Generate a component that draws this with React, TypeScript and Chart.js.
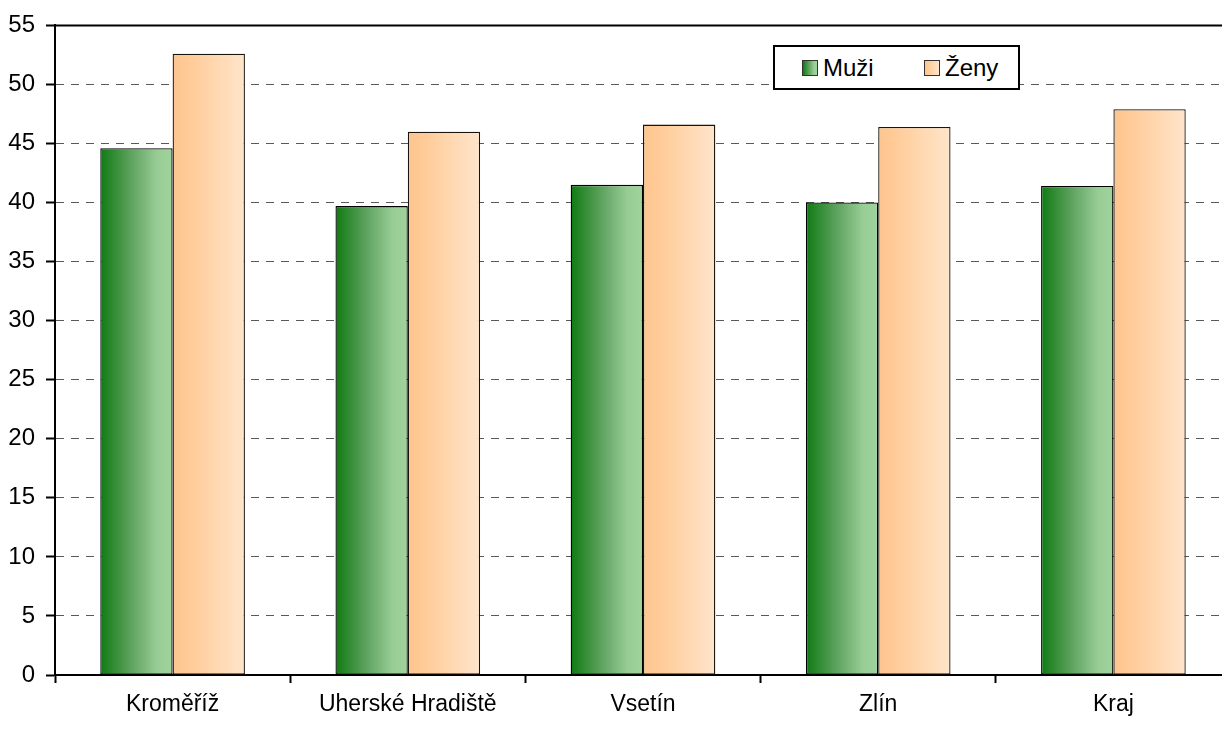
import React, { useEffect, useRef } from "react";
import { Chart, registerables } from "chart.js";

Chart.register(...registerables);

const categories = ["Kroměříž", "Uherské Hradiště", "Vsetín", "Zlín", "Kraj"];
const seriesNames = ["Muži", "Ženy"];
const muzi = [44.6, 39.7, 41.5, 40.0, 41.4];
const zeny = [52.6, 46.0, 46.6, 46.4, 47.9];
const yMin = 0;
const yMax = 55;
const yStep = 5;

const FONT = "'Liberation Sans',Arial,sans-serif";

const gradientStops: [number, string][][] = [
  [
    [0, "#107a12"],
    [0.45, "#62a563"],
    [0.78, "#97cc94"],
    [1, "#a0d49c"],
  ],
  [
    [0, "#fcc590"],
    [0.2, "#ffca96"],
    [1, "#ffe5cb"],
  ],
];

const cssGradient = (i: number) =>
  `linear-gradient(to right, ${gradientStops[i].map(([p, c]) => `${c} ${p * 100}%`).join(", ")})`;

const gradientPlugin = {
  id: "barGradient",
  beforeDatasetsDraw(chart: any) {
    const ctx = chart.ctx;
    chart.data.datasets.forEach((_: any, di: number) => {
      const meta = chart.getDatasetMeta(di);
      meta.data.forEach((el: any) => {
        const { x, width } = el.getProps(["x", "width"], true);
        const g = ctx.createLinearGradient(x - width / 2, 0, x + width / 2, 0);
        gradientStops[di].forEach(([p, c]) => g.addColorStop(p, c));
        el.options = { ...el.options, backgroundColor: g };
      });
    });
  },
};

const topBorderPlugin = {
  id: "topBorder",
  afterDatasetsDraw(chart: any) {
    const { ctx, chartArea } = chart;
    const y = chart.scales.y.getPixelForValue(yMax);
    ctx.save();
    ctx.strokeStyle = "#000";
    ctx.lineWidth = 2;
    ctx.beginPath();
    ctx.moveTo(chartArea.left - 1, y);
    ctx.lineTo(chartArea.right + 2, y);
    ctx.stroke();
    ctx.restore();
  },
};

export default function App() {
  const canvasRef = useRef<HTMLCanvasElement | null>(null);

  useEffect(() => {
    if (!canvasRef.current) return;
    const chart = new Chart(canvasRef.current, {
      type: "bar",
      data: {
        labels: categories,
        datasets: [
          {
            label: seriesNames[0],
            data: muzi,
            backgroundColor: "#62a563",
            borderColor: "#000",
            borderWidth: 1.3,
            borderSkipped: false,
            categoryPercentage: 0.615,
            barPercentage: 1,
          },
          {
            label: seriesNames[1],
            data: zeny,
            backgroundColor: "#ffd4aa",
            borderColor: "#1a140e",
            borderWidth: 1.3,
            borderSkipped: false,
            categoryPercentage: 0.615,
            barPercentage: 1,
          },
        ],
      },
      options: {
        responsive: false,
        animation: false,
        events: [],
        layout: { padding: { top: 20, right: 1, left: 0, bottom: 0 } },
        plugins: { legend: { display: false }, tooltip: { enabled: false } },
        scales: {
          x: {
            grid: {
              offset: true,
              drawOnChartArea: false,
              drawTicks: true,
              tickLength: 8,
              tickColor: "#000",
              tickWidth: 2,
            },
            border: { color: "#000", width: 2 },
            ticks: {
              color: "#000",
              font: { family: FONT, size: 23 },
              padding: 8,
              maxRotation: 0,
              autoSkip: false,
            },
            afterFit: (s: any) => {
              s.height = 54;
            },
          },
          y: {
            min: yMin,
            max: yMax,
            grid: {
              color: (c: any) =>
                c.tick && (c.tick.value === yMax || c.tick.value === yMin) ? "rgba(0,0,0,0)" : "#5a5a5a",
              lineWidth: 1,
              tickColor: "#000",
              tickWidth: 2,
              tickLength: 9,
            },
            border: { color: "#000", width: 2, dash: [8, 7] },
            ticks: {
              stepSize: yStep,
              color: "#000",
              font: { family: FONT, size: 24 },
              padding: 11,
            },
            afterFit: (s: any) => {
              s.width = 55;
            },
          },
        },
      },
      plugins: [gradientPlugin, topBorderPlugin],
    });
    return () => chart.destroy();
  }, []);

  return (
    <div
      style={{
        position: "fixed",
        left: 0,
        top: 0,
        width: 1222,
        height: 729,
        overflow: "hidden",
        background: "#fff",
      }}
    >
      <canvas ref={canvasRef} width={1232} height={729} style={{ width: 1232, height: 729, display: "block" }} />
      <div
        style={{
          position: "absolute",
          left: 773,
          top: 45,
          width: 247,
          height: 45,
          boxSizing: "border-box",
          border: "2px solid #000",
          background: "#fff",
          fontFamily: FONT,
          fontSize: 24,
          color: "#000",
        }}
      >
        {seriesNames.map((name, i) => (
          <div
            key={name}
            style={{
              position: "absolute",
              left: i === 0 ? 27 : 149,
              top: 0,
              height: 41,
              display: "flex",
              alignItems: "center",
            }}
          >
            <span
              style={{
                display: "inline-block",
                width: 14,
                height: 14,
                border: "1px solid #333",
                background: cssGradient(i),
                marginRight: 5,
              }}
            />
            <span style={{ lineHeight: "41px" }}>{name}</span>
          </div>
        ))}
      </div>
    </div>
  );
}
